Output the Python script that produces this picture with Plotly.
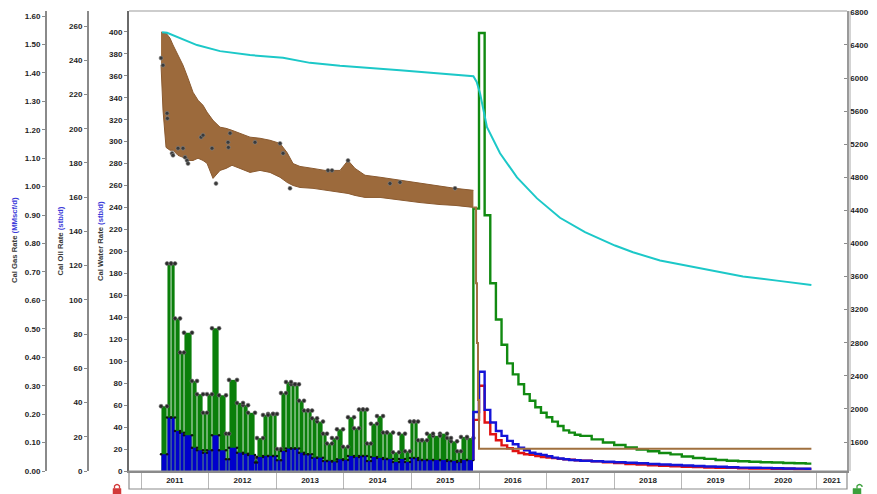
import plotly.graph_objects as go

W, H = 877, 494

# ---------------- history (time in decimal years) ----------------
hist_edges = [
    2011.296, 2011.385, 2011.444, 2011.503, 2011.577, 2011.636, 2011.754, 2011.828, 2011.917, 2011.976,
    2012.050, 2012.154, 2012.257, 2012.302, 2012.420, 2012.509, 2012.583, 2012.686, 2012.716, 2012.805,
    2012.879, 2012.953, 2013.012, 2013.071, 2013.145, 2013.219, 2013.278, 2013.337, 2013.411, 2013.470,
    2013.530, 2013.604, 2013.692, 2013.751, 2013.825, 2013.899, 2013.988, 2014.062, 2014.151, 2014.225,
    2014.284, 2014.343, 2014.402, 2014.491, 2014.580, 2014.639, 2014.728, 2014.817, 2014.905, 2014.979,
    2015.038, 2015.098, 2015.157, 2015.231, 2015.320, 2015.423, 2015.527, 2015.586, 2015.675, 2015.734,
    2015.822, 2015.917,
]
water_hist = [
    59, 189, 189, 139, 108, 126, 82, 70, 53, 70,
    130, 69, 34, 83, 62, 60, 53, 12, 30, 51,
    52, 52, 20, 71, 81, 79, 79, 64, 55, 55,
    48, 45, 34, 25, 30, 38, 22, 49, 39, 56,
    56, 25, 43, 50, 35, 35, 17, 34, 18, 45,
    45, 28, 28, 34, 32, 34, 30, 27, 18, 31,
    30,
]
oil_hist = [
    9.8, 31.2, 31.2, 23.4, 22.4, 20.9, 13.6, 12.1, 10.7, 12.1,
    20.9, 12.1, 6.9, 13.6, 10.7, 10.1, 9.4, 4.9, 8.2, 8.8,
    8.8, 8.8, 6.3, 11.7, 13.1, 13.1, 13.1, 10.7, 9.8, 9.8,
    7.8, 7.8, 5.9, 5.9, 5.5, 6.9, 6.4, 8.8, 8.2, 8.8,
    8.8, 5.9, 8.2, 7.6, 7.0, 7.0, 5.3, 7.0, 5.3, 7.6,
    7.6, 6.4, 6.4, 6.4, 6.4, 6.4, 5.9, 5.9, 5.3, 6.4,
    6.4,
]

# gas rate: high / low envelope of the daily readings
gas_band_t = [
    2011.296, 2011.325, 2011.370, 2011.429, 2011.473, 2011.547, 2011.621, 2011.695, 2011.769, 2011.843,
    2011.917, 2011.976, 2012.065, 2012.169, 2012.257, 2012.346, 2012.464, 2012.612, 2012.760, 2012.908,
    2013.056, 2013.160, 2013.249, 2013.352, 2013.544, 2013.722, 2013.944, 2014.062, 2014.166, 2014.314,
    2014.536, 2014.831, 2015.127, 2015.423, 2015.645, 2015.917,
]
gas_band_hi = [
    1.544, 1.540, 1.540, 1.522, 1.498, 1.463, 1.427, 1.381, 1.332, 1.304,
    1.286, 1.262, 1.233, 1.209, 1.205, 1.198, 1.187, 1.174, 1.170, 1.163,
    1.152, 1.120, 1.081, 1.071, 1.064, 1.057, 1.057, 1.092, 1.064, 1.040,
    1.033, 1.022, 1.011, 1.001, 0.994, 0.987,
]
gas_band_lo = [
    1.427, 1.269, 1.138, 1.128, 1.128, 1.110, 1.103, 1.092, 1.092, 1.100,
    1.092, 1.082, 1.029, 1.057, 1.064, 1.075, 1.064, 1.050, 1.057, 1.050,
    1.033, 1.015, 1.004, 0.997, 0.994, 0.987, 0.980, 0.976, 0.969, 0.962,
    0.962, 0.952, 0.944, 0.937, 0.934, 0.927,
]
gas_obs_t = [
    2011.296, 2011.325, 2011.385, 2011.390, 2011.459, 2011.473, 2011.547, 2011.621, 2011.651, 2011.680,
    2011.695, 2011.888, 2011.917, 2012.050, 2012.109, 2012.287, 2012.292, 2012.317, 2012.686, 2013.056,
    2013.101, 2013.204, 2013.766, 2013.825, 2014.062, 2014.683, 2014.831, 2015.645,
]
gas_obs_v = [
    1.452, 1.427, 1.258, 1.240, 1.117, 1.110, 1.135, 1.135, 1.103, 1.092,
    1.081, 1.174, 1.181, 1.135, 1.011, 1.156, 1.138, 1.188, 1.156, 1.152,
    1.117, 0.994, 1.057, 1.057, 1.092, 1.011, 1.015, 0.994,
]

# flowing pressure (right axis)
pressure_t = [
    2011.311, 2011.385, 2011.828, 2012.169, 2012.612, 2013.101, 2013.500, 2013.944, 2014.831, 2015.571,
    2015.917, 2015.966, 2016.015, 2016.118, 2016.311, 2016.562, 2016.858, 2017.198, 2017.568, 2018.012,
    2018.278, 2018.678, 2019.121, 2019.417, 2019.905, 2020.408, 2020.917,
]
pressure_v = [
    6552, 6547, 6398, 6325, 6277, 6244, 6183, 6147, 6094, 6043,
    6022, 5953, 5816, 5405, 5090, 4799, 4545, 4311, 4137, 3975,
    3894, 3794, 3721, 3673, 3600, 3551, 3499,
]

# ---------------- forecast (month offsets from Dec 2015) ----------------
fc_start = 2015 + 11 / 12
fc_months = list(range(20)) + list(range(21, 60, 2))
fc_end_month = 60
water_fc = [
    239, 399, 233, 171, 138, 115, 98, 88, 79, 70,
    64, 58, 53, 49, 45, 41, 37, 35, 33, 32,
    28.8, 26.0, 23.7, 21.5, 19.6, 18.0, 16.4, 15.1, 13.2, 11.9,
    11.0, 10.0, 9.4, 8.9, 8.4, 8.0, 7.7, 7.3, 7.0, 6.7,
]
oil_fc = [
    34.5, 58.0, 35.7, 28.3, 23.4, 20.5, 17.6, 15.6, 13.6, 12.1,
    10.7, 10.0, 9.4, 8.6, 7.8, 7.3, 6.9, 6.4, 6.3, 6.0,
    5.7, 5.4, 5.1, 4.8, 4.5, 4.1, 3.8, 3.5, 3.2, 2.9,
    2.6, 2.5, 2.2, 2.0, 1.9, 1.8, 1.6, 1.5, 1.4, 1.3,
]
oil_fc_low = [
    29.9, 49.8, 28.3, 21.5, 18.0, 15.0, 13.3, 11.7, 10.5, 9.8,
    9.4, 8.8, 8.2, 7.8, 7.5, 7.1, 6.9, 6.6, 6.3, 6.0,
    5.6, 5.1, 4.6, 4.1, 3.7, 3.4, 3.0, 2.8, 2.5, 2.3,
    2.0, 1.9, 1.8, 1.6, 1.5, 1.5, 1.3, 1.3, 1.2, 1.2,
]
gas_fc_t = [2015.956, 2015.970, 2015.985, 2016.000, 2020.917]
gas_fc_v = [0.66, 0.45, 0.25, 0.078, 0.078]

years = list(range(2011, 2022))
year_labels = [str(y) for y in years]
year_label_pos = [y + 0.5 for y in years[:-1]] + [2021.22]

# ---------------- derived geometry ----------------
starts = hist_edges[:-1]
ends = hist_edges[1:]
centers = [(a + b) / 2 for a, b in zip(starts, ends)]
widths = [(b - a) - 0.012 for a, b in zip(starts, ends)]

fc_edges = [fc_start + m / 12 for m in fc_months] + [fc_start + fc_end_month / 12]


def step_xy(values, lead):
    """Step outline for a forecast, rising from the last history value."""
    return [fc_edges[0]] + fc_edges, [lead] + list(values) + [values[-1]]


GREEN = "#0a7f0a"
BLUE = "#0000cc"
RED = "#e01212"
BROWN = "#9c6a3c"
CYAN = "#1cc8c8"
TICK_FONT = dict(size=8, color="#1e1e1e", weight="bold")

fig = go.Figure()

# water: history bars, reading dots, forecast step line
fig.add_trace(go.Bar(x=centers, y=water_hist, width=widths, yaxis="y",
                     marker=dict(color=GREEN, line=dict(width=0))))
fig.add_trace(go.Scatter(x=starts + ends, y=water_hist + water_hist, yaxis="y", mode="markers",
                         marker=dict(size=4, color="#2a2a2a", line=dict(width=0.6, color="#777"))))
wx, wy = step_xy(water_fc, water_hist[-1])
fig.add_trace(go.Scatter(x=wx, y=wy, yaxis="y", mode="lines",
                         line=dict(color="#118a11", width=2.4, shape="hv")))

# oil: history bars, reading dots, two forecast cases
fig.add_trace(go.Bar(x=centers, y=oil_hist, width=widths, yaxis="y2",
                     marker=dict(color=BLUE, line=dict(width=0))))
fig.add_trace(go.Scatter(x=starts + ends, y=oil_hist + oil_hist, yaxis="y2", mode="markers",
                         marker=dict(size=2.5, color="#111")))
rx, ry = step_xy(oil_fc_low, oil_hist[-1])
fig.add_trace(go.Scatter(x=rx, y=ry, yaxis="y2", mode="lines",
                         line=dict(color=RED, width=2.4, shape="hv")))
bx, by = step_xy(oil_fc, oil_hist[-1])
fig.add_trace(go.Scatter(x=bx, y=by, yaxis="y2", mode="lines",
                         line=dict(color="#1414d8", width=2.4, shape="hv")))

# gas band, readings and forecast
fig.add_trace(go.Scatter(x=gas_band_t, y=gas_band_lo, yaxis="y3", mode="lines",
                         line=dict(color="#8a5a30", width=1)))
fig.add_trace(go.Scatter(x=gas_band_t, y=gas_band_hi, yaxis="y3", mode="lines", fill="tonexty",
                         fillcolor=BROWN, line=dict(color="#8a5a30", width=1)))
fig.add_trace(go.Scatter(x=gas_obs_t, y=gas_obs_v, yaxis="y3", mode="markers",
                         marker=dict(size=4, color="#3a3a3a", line=dict(width=0.6, color="#888"))))
fig.add_trace(go.Scatter(x=[fc_start] + gas_fc_t, y=[gas_band_lo[-1]] + gas_fc_v, yaxis="y3",
                         mode="lines", line=dict(color="#a0703f", width=2, shape="hv")))

# pressure
fig.add_trace(go.Scatter(x=pressure_t, y=pressure_v, yaxis="y4", mode="lines",
                         line=dict(color=CYAN, width=2)))


def px(x, y):
    """Pixel position to paper fraction (margins are zero)."""
    return x / W, 1 - y / H


common_y = dict(showgrid=False, zeroline=False, ticks="outside", ticklen=3, tickcolor="#8a8a8a",
                tickwidth=1, showline=True, linewidth=2,
                tickfont=TICK_FONT, automargin=False, tickmode="linear", tick0=0)

fig.update_layout(
    width=W, height=H, margin=dict(l=0, r=0, t=0, b=0),
    paper_bgcolor="white", plot_bgcolor="white", showlegend=False, barmode="overlay",
    font=dict(family="Liberation Sans, Arial, sans-serif"),
    xaxis=dict(domain=[129 / W, 847 / W], range=[2010.822, 2021.444], tickmode="array",
               tickvals=year_label_pos, ticktext=year_labels, ticks="", showgrid=False,
               zeroline=False, showline=True, linecolor="#8a8a8a", linewidth=2,
               tickfont=TICK_FONT, automargin=False,
               minor=dict(tickmode="linear", tick0=2011, dtick=1, ticks="outside", ticklen=16,
                          tickcolor="#b8b8b8", tickwidth=1, showgrid=False)),
    yaxis=dict(domain=[23 / H, 483 / H], range=[0, 419], dtick=20, linecolor="#6a6a6a",
               **common_y),
    yaxis2=dict(overlaying="y", anchor="free", position=88 / W, side="left",
                range=[0, 268.8], dtick=20, linecolor="#8a8a8a", **common_y),
    yaxis3=dict(overlaying="y", anchor="free", position=46 / W, side="left",
                range=[0, 1.6176], dtick=0.1, tickformat=".2f", linecolor="#8a8a8a", **common_y),
    yaxis4=dict(overlaying="y", anchor="x", side="right", range=[1250, 6810], dtick=400,
                tickformat="d", linecolor="#9a9a9a",
                **{**common_y, "ticks": "inside", "linewidth": 1.5}),
)

blue_unit = "<span style='color:#3b3bd9'>"
titles = [
    ("Cal Gas Rate " + blue_unit + "(MMscf/d)</span>", 15, 240),
    ("Cal Oil Rate " + blue_unit + "(stb/d)</span>", 59.5, 241),
    ("Cal Water Rate " + blue_unit + "(stb/d)</span>", 100, 241),
]
for text, tx, ty in titles:
    ax, ay = px(tx, ty)
    fig.add_annotation(text=text, x=ax, y=ay, xref="paper", yref="paper", textangle=-90,
                       showarrow=False, xanchor="center", yanchor="middle",
                       font=dict(size=7.7, color="#3a3a3a", weight="bold"))

shapes = []
# frame top and second right rule
x0, y0 = px(129, 11)
x1, _ = px(847, 11)
shapes.append(dict(type="line", xref="paper", yref="paper", x0=x0, x1=x1, y0=y0, y1=y0,
                   line=dict(color="#cdcdcd", width=2)))
rx0, ry0 = px(850, 11)
_, ry1 = px(850, 471)
shapes.append(dict(type="line", xref="paper", yref="paper", x0=rx0, x1=rx0, y0=ry0, y1=ry1,
                   line=dict(color="#a8a8a8", width=1)))
# time-axis band
bx0, by0 = px(129, 489)
bx1, by1 = px(847, 471)
shapes.append(dict(type="rect", xref="paper", yref="paper", x0=bx0, x1=bx1, y0=by0, y1=by1,
                   line=dict(color="#8c8c8c", width=1.2)))


def lock(xl, color, open_shackle):
    """Small padlock glyph at an end of the time axis."""
    a, b = px(xl, 494)
    c, d = px(xl + 8, 488.5)
    shapes.append(dict(type="rect", xref="paper", yref="paper", x0=a, x1=c, y0=b, y1=d,
                       fillcolor=color, line=dict(color=color, width=0.5)))
    sx = xl + (4 if open_shackle else 1.5)
    p1 = px(sx, 488.5)
    p2 = px(sx, 486)
    p3 = px(sx + 2.5, 483)
    p4 = px(sx + 5, 486)
    p5 = px(sx + 5, 487 if open_shackle else 488.5)
    path = (f"M {p1[0]},{p1[1]} L {p2[0]},{p2[1]} Q {p3[0]},{p3[1]} {p4[0]},{p4[1]} "
            f"L {p5[0]},{p5[1]}")
    shapes.append(dict(type="path", xref="paper", yref="paper", path=path,
                       line=dict(color=color, width=1.3)))


lock(113, "#d23a3a", False)
lock(853, "#3ca03c", True)

fig.update_layout(shapes=shapes)
fig.write_html("out.html")
